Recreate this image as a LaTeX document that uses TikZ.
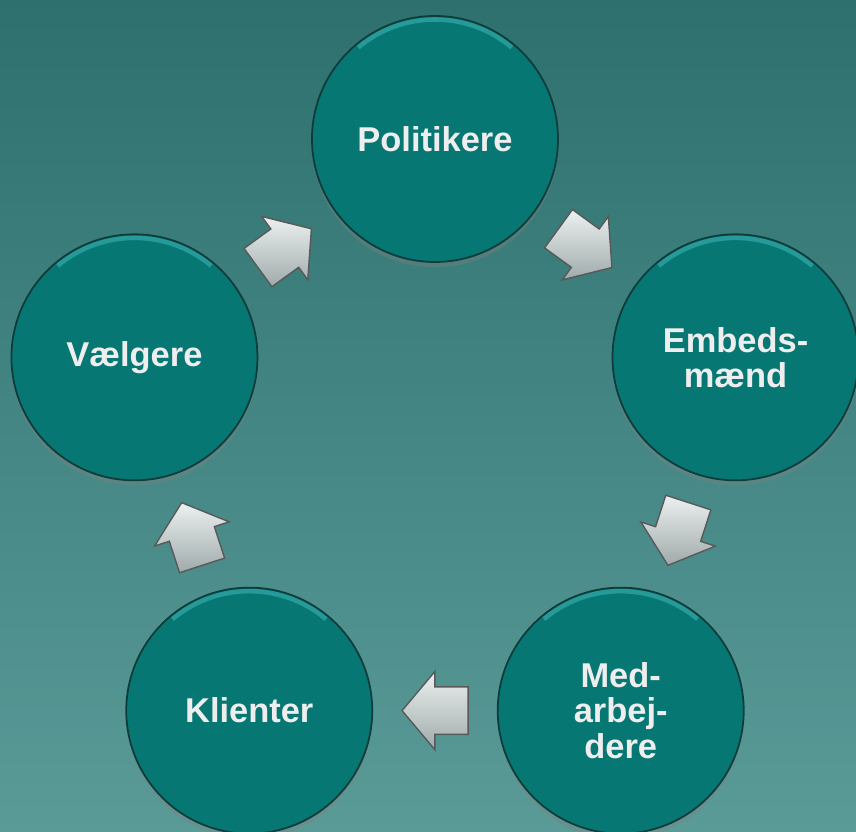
\documentclass[tikz,border=0pt]{standalone}
\usepackage{fontspec}
\setmainfont{Liberation Sans}
\usetikzlibrary{positioning,calc,shapes.arrows,shadows}

\definecolor{bgtop}{RGB}{45,112,110}
\definecolor{bgbottom}{RGB}{90,155,152}
\definecolor{bubblefill}{RGB}{7,119,116}
\definecolor{bubbleedge}{RGB}{14,60,59}
\definecolor{rimlight}{RGB}{70,190,190}
\definecolor{labeltext}{RGB}{238,238,238}
\definecolor{silverlight}{RGB}{236,240,240}
\definecolor{silverdark}{RGB}{160,170,170}

\tikzset{
    bubble/.style={circle, minimum size=2.46cm, inner sep=0pt, fill=bubblefill,
        draw=bubbleedge, line width=0.5pt, align=center, text=labeltext,
        font=\fontsize{9.8}{10}\selectfont\bfseries,
        drop shadow={shadow xshift=0pt, shadow yshift=-1.5pt, opacity=0.35},
        path picture={\draw[rimlight, line width=1.3pt, opacity=0.5]
            (path picture bounding box.center) ++(130:1.195) arc (130:50:1.195);}},
    flowarrow/.style={single arrow, inner xsep=0pt, inner ysep=0.23cm,
        minimum height=0.66cm, single arrow head extend=0.155cm,
        single arrow tip angle=100, draw=black!65, line width=0.4pt,
        top color=silverlight, bottom color=silverdark}
}

\begin{document}
\begin{tikzpicture}

\useasboundingbox (-4.35,-3.77) rectangle (4.21,4.55);
\shade[top color=bgtop, bottom color=bgbottom] (-4.35,-3.77) rectangle (4.21,4.55);

\foreach \i/\txt in {0/Politikere, 1/{Embeds-\\mænd}, 2/{Med-\\arbej-\\dere}, 3/Klienter, 4/Vælgere} {
    \node[bubble] (c\i) at ({90-72*\i}:3.16) {\txt};
}

\foreach \i in {0,...,4} {
    \pgfmathtruncatemacro{\next}{mod(\i+1,5)}
    \node[flowarrow, rotate={-36-72*\i}, xshift=-0.1cm] (a\i) at ($(c\i)!0.5!(c\next)$) {};
}

\end{tikzpicture}
\end{document}
